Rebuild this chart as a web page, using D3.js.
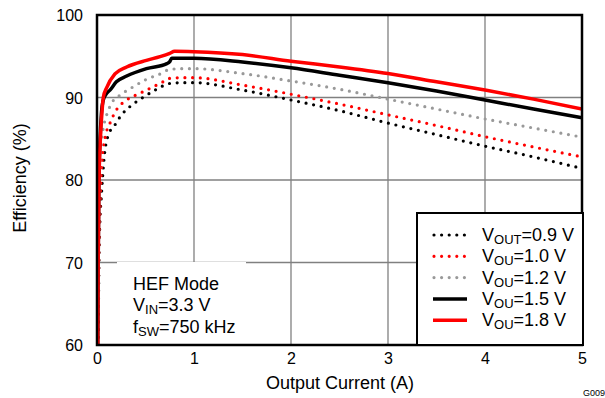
<!DOCTYPE html>
<html><head><meta charset="utf-8">
<script src="https://cdn.jsdelivr.net/npm/d3@7"></script>
<style>body{margin:0;background:#fff}svg{display:block;font-family:"Liberation Sans",Arial,sans-serif}</style>
</head><body><svg id="c" width="605" height="398"></svg>
<script>
const xTicks=[0,1,2,3,4,5];
const yTicks=[60,70,80,90,100];
const seriesNames=["0.9","1.0","1.2","1.5","1.8"];
const v09=[[0.012,60],[0.02,70],[0.03,75],[0.045,78],[0.058,80.4],[0.082,83.6],[0.134,85.9],[0.186,86.7],[0.24,87.7],[0.34,88.9],[0.46,89.9],[0.615,91.0],[0.75,91.7],[0.89,91.8],[1.0,91.8],[1.5,90.9],[2,89.7],[2.5,88.4],[3,86.9],[3.5,85.5],[4,84.1],[4.5,82.8],[5,81.4]];
const v10=[[0.01,60],[0.018,70],[0.03,76],[0.038,79.2],[0.058,83.2],[0.09,85.5],[0.134,86.9],[0.2,88.5],[0.306,89.7],[0.44,90.5],[0.58,91.3],[0.68,91.9],[0.735,92.3],[0.89,92.4],[1.0,92.4],[1.5,91.5],[2,90.4],[2.5,89.2],[3,87.9],[3.5,86.6],[4,85.25],[4.5,84.0],[5,82.8]];
const v12=[[0.01,60],[0.016,70],[0.025,78],[0.03,81.6],[0.048,84.8],[0.07,86.6],[0.1,87.9],[0.15,89.3],[0.24,90.3],[0.36,91.2],[0.51,92.2],[0.65,92.85],[0.75,93.4],[0.89,93.5],[1.0,93.5],[1.5,92.9],[2,92.0],[2.5,91.0],[3,89.8],[3.5,88.6],[4,87.4],[4.5,86.3],[5,85.2]];
const v15=[[0.008,60],[0.012,70],[0.02,80],[0.03,84.5],[0.045,88],[0.065,89.7],[0.1,90.5],[0.134,90.9],[0.2,91.9],[0.306,92.6],[0.51,93.5],[0.72,94.1],[0.75,94.35],[0.77,94.75],[1.0,94.75],[1.5,94.3],[2,93.6],[2.5,92.7],[3,91.8],[3.5,90.8],[4,89.7],[4.5,88.6],[5,87.55]];
const v18=[[0.008,60],[0.012,70],[0.02,79.6],[0.038,85.7],[0.05,88],[0.065,90],[0.1,91.2],[0.185,92.85],[0.306,93.7],[0.51,94.5],[0.65,94.95],[0.75,95.35],[0.8,95.6],[1.0,95.55],[1.5,95.2],[2,94.4],[2.5,93.7],[3,92.9],[3.5,91.9],[4,90.9],[4.5,89.8],[5,88.6]];
const seriesData=[v09,v10,v12,v15,v18];
const colors=["#000","#ff0000","#999999","#000","#ff0000"];
const dotted=[true,true,true,false,false];
const subs=["OUT","OU","OU","OU","OU"];

const svg=d3.select("#c");
const L=97,R=582,T=15,B=345;
const x=d3.scaleLinear().domain([0,5]).range([L,R]);
const y=d3.scaleLinear().domain([60,100]).range([B,T]);

// grid
const g=svg.append("g");
g.selectAll(".gx").data(xTicks.slice(1,-1)).enter().append("line")
 .attr("x1",d=>x(d)).attr("x2",d=>x(d)).attr("y1",T).attr("y2",B).attr("stroke","#808080").attr("stroke-width",1.3);
g.selectAll(".gy").data(yTicks.slice(1,-1)).enter().append("line")
 .attr("x1",L).attr("x2",R).attr("y1",d=>y(d)).attr("y2",d=>y(d)).attr("stroke","#808080").attr("stroke-width",1.3);

// axes
const xa=svg.append("g").attr("transform",`translate(0,${B})`).call(d3.axisBottom(x).tickValues(xTicks).tickSize(0).tickPadding(8).tickFormat(d3.format("d")));
const ya=svg.append("g").attr("transform",`translate(${L},0)`).call(d3.axisLeft(y).tickValues(yTicks).tickSize(0).tickPadding(14));
[xa,ya].forEach(a=>{a.select(".domain").remove();a.selectAll("text").attr("font-size",16).attr("fill","#000").attr("font-family","Liberation Sans, Arial, sans-serif");});
ya.selectAll("text").attr("dy","0.35em");

// annotation white box
svg.append("rect").attr("x",117).attr("y",262).attr("width",129).attr("height",B-262).attr("fill","#fff");

// curves
const clip=svg.append("clipPath").attr("id","cp").append("rect").attr("x",L).attr("y",T).attr("width",R-L).attr("height",B-T);
const line=d3.line().x(d=>x(d[0])).y(d=>y(d[1])).curve(d3.curveMonotoneX);
seriesData.forEach((s,i)=>{
 const p=svg.append("path").attr("d",line(s)).attr("fill","none").attr("stroke",colors[i]).attr("clip-path","url(#cp)");
 if(dotted[i]) p.attr("stroke-width",3.2).attr("stroke-dasharray","0 7.7").attr("stroke-linecap","round");
 else p.attr("stroke-width",3.5).attr("stroke-linejoin","round");
});

// frame
svg.append("rect").attr("x",L).attr("y",T).attr("width",R-L).attr("height",B-T).attr("fill","none").attr("stroke","#000").attr("stroke-width",2.5);

// annotation text
const ann=svg.append("g").attr("font-size",18).attr("fill","#000");
ann.append("text").attr("x",133).attr("y",290).text("HEF Mode");
const t2=ann.append("text").attr("x",133).attr("y",311);
t2.append("tspan").text("V");t2.append("tspan").attr("font-size",13).attr("dy",3).text("IN");t2.append("tspan").attr("dy",-3).text("=3.3 V");
const t3=ann.append("text").attr("x",133).attr("y",333);
t3.append("tspan").text("f");t3.append("tspan").attr("font-size",13).attr("dy",3).text("SW");t3.append("tspan").attr("dy",-3).text("=750 kHz");

// legend
const lg=svg.append("g");
lg.append("rect").attr("x",417).attr("y",213).attr("width",166).attr("height",132).attr("fill","#fff").attr("stroke","#000").attr("stroke-width",2);
seriesNames.forEach((n,i)=>{
 const yy=235+i*21.3;
 const ln=lg.append("line").attr("x1",433).attr("x2",467).attr("y1",yy).attr("y2",yy).attr("stroke",colors[i]);
 if(dotted[i]) ln.attr("stroke-width",3.2).attr("stroke-dasharray","0 7.6").attr("stroke-linecap","round").attr("x1",434).attr("x2",466);
 else ln.attr("stroke-width",3.5);
 const t=lg.append("text").attr("x",482).attr("y",yy+6).attr("font-size",18);
 t.append("tspan").text("V");t.append("tspan").attr("font-size",13).attr("dy",3).text(subs[i]);t.append("tspan").attr("dy",-3).text("="+n+" V");
});

// axis titles
svg.append("text").attr("x",340).attr("y",389).attr("text-anchor","middle").attr("font-size",18).text("Output Current (A)");
svg.append("text").attr("transform","translate(26,178) rotate(-90)").attr("text-anchor","middle").attr("font-size",18).text("Efficiency (%)");
svg.append("text").attr("x",583).attr("y",396).attr("font-size",9).text("G009");
</script></body></html>
